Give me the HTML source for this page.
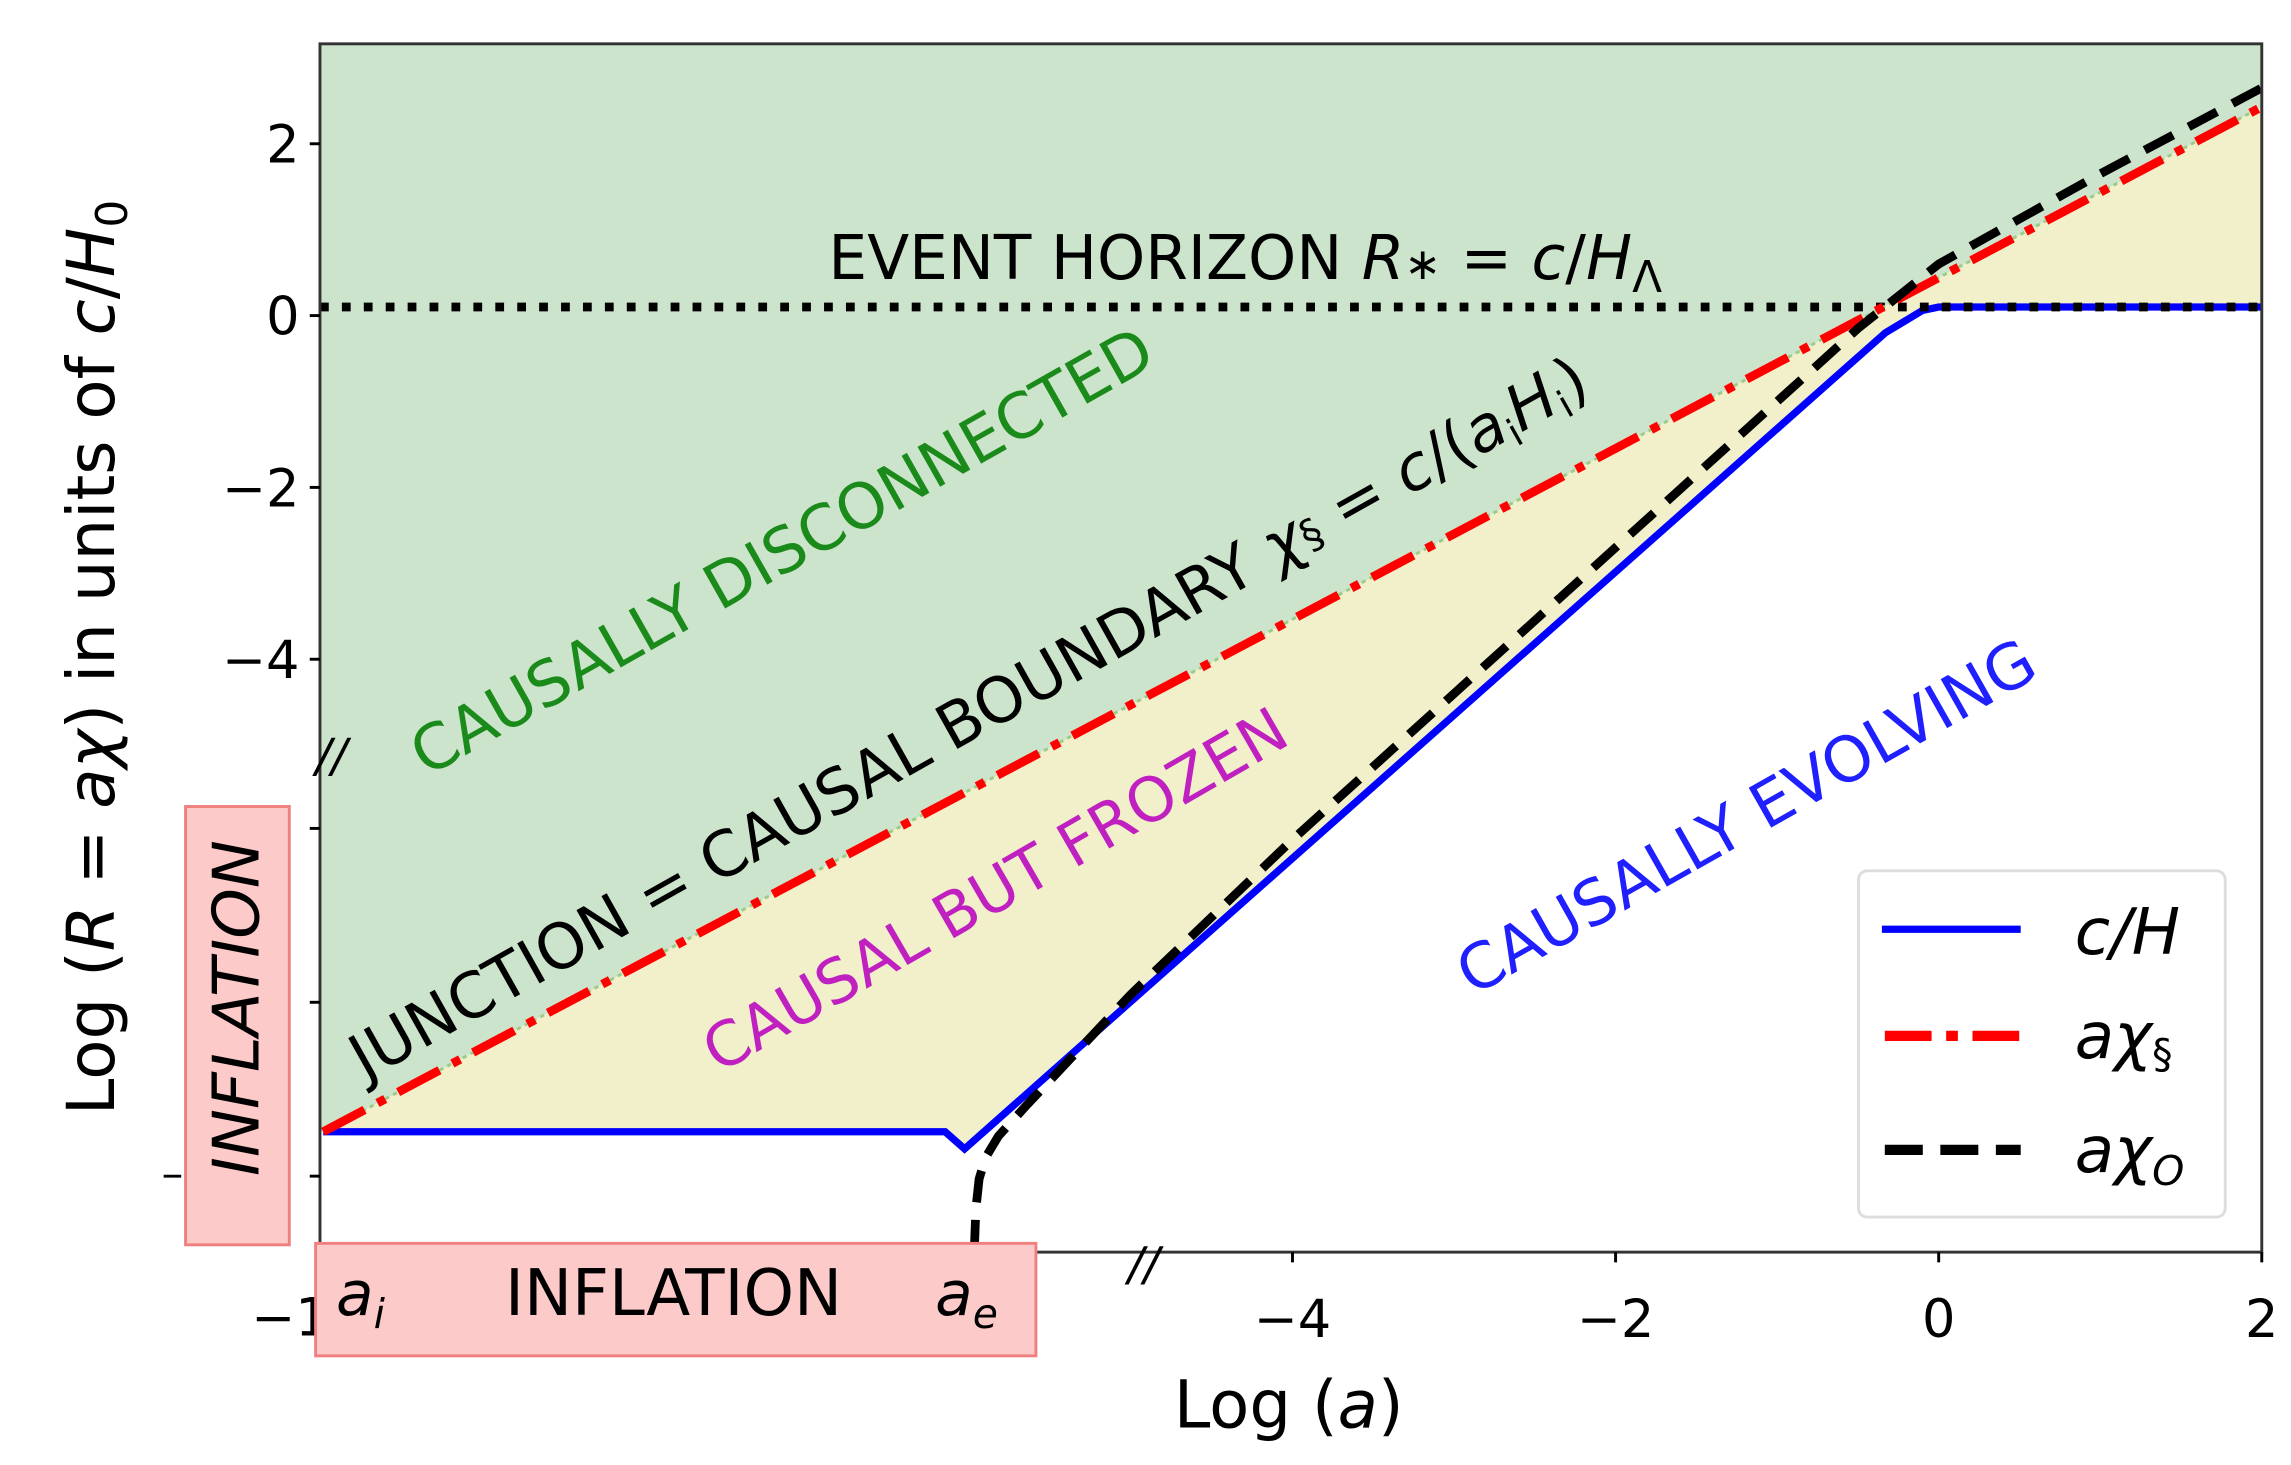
<!DOCTYPE html>
<html><head><meta charset="utf-8">
<style>
html,body{margin:0;padding:0;background:#fff;}
svg{display:block;}
text{font-family:"DejaVu Sans","Liberation Sans",sans-serif;}
</style></head>
<body>
<svg id="chart" width="2291" height="1465" viewBox="0 0 1568 1002.7" preserveAspectRatio="none" xmlns="http://www.w3.org/2000/svg">
<g id="fills"></g>
<g id="lines"></g>
<g id="axes"></g>
<g id="annot"></g>
</svg>
<script>
// ---- data ----
const xTicks = [-4, -2, 0, 2];
const yTicks = [2, 0, -2, -4];
const yTickLabels = ["2", "0", "\u22122", "\u22124"];
const xTickLabels = ["\u22124", "\u22122", "0", "2"];
const horizonLevel = 0.1;
const blueX = [-10, -6.15, -6.03, -0.33, -0.1, 0, 2];
const blueY = [-9.5, -9.5, -9.7, -0.2, 0.06, 0.1, 0.1];
const redX = [-10, 2];
const redY = [-9.5, 2.43];
const blackX = [-5.97, -5.96, -5.94, -5.9, -5.82, -5.65, -5.3, -5, -4, -3, -2, -1, -0.5, 0, 1, 2];
const blackY = [-10.9, -10.4, -10.05, -9.8, -9.55, -9.2, -8.5, -7.9, -6.1, -4.4, -2.7, -1.0, -0.15, 0.6, 1.65, 2.65];

// ---- axes mapping (shown-scale coordinates) ----
const X0 = 219, X1 = 1548, Y0 = 30, Y1 = 857;
const xmin = -10.02, xmax = 2;
const sx = v => X0 + (v - xmin) / (xmax - xmin) * (X1 - X0);
const sy = v => 216 - v * 58.8;
const NS = "http://www.w3.org/2000/svg";
function mk(tag, attrs, parent) {
  const e = document.createElementNS(NS, tag);
  for (const k in attrs) e.setAttribute(k, attrs[k]);
  parent.appendChild(e);
  return e;
}
const fills = document.getElementById('fills');
const lines = document.getElementById('lines');
const axes = document.getElementById('axes');

function pts(xs, ys) { return xs.map((x, i) => sx(x).toFixed(2) + ',' + sy(ys[i]).toFixed(2)); }

let g = mk('rect', {x: X0, y: Y0, width: X1 - X0, height: Y1 - Y0, fill: '#cde4cc'}, fills);


let wp = pts(blueX, blueY).join(' ') + ` ${sx(2)},${Y1} ${sx(-10.02)},${Y1} ${sx(-10.02)},${sy(blueY[0])}`;
let w = mk('polygon', {points: wp, fill: '#ffffff'}, fills);


let yp = pts(redX, redY).join(' ') + ' ' + pts(blueX.slice().reverse(), blueY.slice().reverse()).join(' ');
let y = mk('polygon', {points: yp, fill: '#f1f0cb'}, fills);



let bl = mk('polyline', {points: pts(blueX, blueY).join(' '), fill: 'none', stroke: '#0000ff', 'stroke-width': 5}, lines);


let hz = mk('line', {x1: X0, x2: X1, y1: sy(horizonLevel), y2: sy(horizonLevel), stroke: '#000', 'stroke-width': 6, 'stroke-dasharray': '6 9'}, lines);


let gd = mk('polyline', {points: pts(redX, redY).join(' '), fill: 'none', stroke: '#9ccc88', 'stroke-width': 2, 'stroke-dasharray': '3 3'}, lines);


let rd = mk('polyline', {points: pts(redX, redY).join(' '), fill: 'none', stroke: '#ff0000', 'stroke-width': 6, 'stroke-dasharray': '32 10 6 10'}, lines);


let bk = mk('polyline', {points: pts(blackX, blackY).join(' '), fill: 'none', stroke: '#000', 'stroke-width': 6, 'stroke-dasharray': '22 12'}, lines);



let fr = mk('rect', {x: X0, y: Y0, width: X1 - X0, height: Y1 - Y0, fill: 'none', stroke: '#333', 'stroke-width': 2}, axes);


yTicks.forEach((t, i) => {
  mk('line', {x1: X0 - 7, x2: X0, y1: sy(t), y2: sy(t), stroke: '#000', 'stroke-width': 2}, axes);
  let tx = mk('text', {x: X0 - 14, y: sy(t) + 13, 'text-anchor': 'end', 'font-size': 36}, axes);
  tx.textContent = yTickLabels[i];
  
  
});
[567, 686, 805].forEach(py => mk('line', {x1: X0 - 7, x2: X0, y1: py, y2: py, stroke: '#000', 'stroke-width': 2}, axes));
mk('line', {x1: 112, x2: 124, y1: 805, y2: 805, stroke: '#000', 'stroke-width': 2}, axes);
xTicks.forEach((t, i) => {
  mk('line', {x1: sx(t), x2: sx(t), y1: Y1, y2: Y1 + 7, stroke: '#000', 'stroke-width': 2}, axes);
  let tx = mk('text', {x: sx(t), y: Y1 + 58, 'text-anchor': 'middle', 'font-size': 36}, axes);
  tx.textContent = xTickLabels[i];
  
  
});
</script>
<script>
(function(){
const annot = document.getElementById('annot');
annot.innerHTML = `
<text x="172" y="914" font-size="36">−1</text>
<text x="882" y="977" text-anchor="middle" font-size="45">Log (<tspan font-style="italic">a</tspan>)</text>
<text transform="translate(78,450) rotate(-90)" text-anchor="middle" font-size="45">Log (<tspan font-style="italic">R</tspan> = <tspan font-style="italic">aχ</tspan>)  in units of <tspan font-style="italic">c</tspan>/<tspan font-style="italic">H</tspan><tspan font-size="30" dy="9">0</tspan></text>
<text x="567" y="191" font-size="42">EVENT HORIZON   <tspan font-style="italic">R</tspan><tspan font-size="30">∗</tspan> = <tspan font-style="italic">c</tspan>/<tspan font-style="italic">H</tspan><tspan font-size="30" dy="9">Λ</tspan></text>
<text transform="translate(292,532) rotate(-29.5)" font-size="43" fill="#1a8a1a">CAUSALLY DISCONNECTED</text>
<text transform="translate(250,740) rotate(-29.3)" font-size="43">JUNCTION = CAUSAL BOUNDARY  <tspan font-style="italic">χ</tspan><tspan font-size="28">§</tspan> = <tspan font-style="italic">c</tspan>/(<tspan font-style="italic">a</tspan><tspan font-size="26" dy="7">i</tspan><tspan dy="-7" font-style="italic">H</tspan><tspan font-size="26" dy="7">i</tspan><tspan dy="-7">)</tspan></text>
<text transform="translate(492,735) rotate(-30)" font-size="42" fill="#c020c0">CAUSAL BUT FROZEN</text>
<text transform="translate(1008,682) rotate(-29.5)" font-size="43" fill="#2020ff">CAUSALLY EVOLVING</text>
<text x="216" y="528" font-size="32" font-style="italic">//</text>
<text x="772" y="876" font-size="32" font-style="italic">//</text>
<g>
<rect x="127" y="552" width="71" height="300" fill="#fdcaca" stroke="#f08080" stroke-width="2"/>
<text transform="translate(177,690) rotate(-90)" text-anchor="middle" font-size="44" font-style="italic">INFLATION</text>
</g>
<g>
<rect x="216" y="851" width="493" height="77" fill="#fdcaca" stroke="#f08080" stroke-width="2"/>
<text x="230" y="900" font-size="42" font-style="italic">a<tspan font-size="28" dy="9">i</tspan></text>
<text x="461" y="900" text-anchor="middle" font-size="44">INFLATION</text>
<text x="640" y="900" font-size="42" font-style="italic">a<tspan font-size="28" dy="9">e</tspan></text>
</g>
<g>
<rect x="1272" y="596" width="251" height="237" rx="6" fill="#fff" fill-opacity="0.85" stroke="#ddd" stroke-width="2"/>
<line x1="1288" x2="1383" y1="636" y2="636" stroke="#0000ff" stroke-width="5"/>
<text x="1420" y="653" font-size="44" font-style="italic">c/H</text>
<line x1="1290" x2="1383" y1="709" y2="709" stroke="#ff0000" stroke-width="7" stroke-dasharray="32 10 8 10"/>
<text x="1420" y="724" font-size="44" font-style="italic">aχ<tspan font-size="28" dy="7" font-style="normal">§</tspan></text>
<line x1="1290" x2="1383" y1="787" y2="787" stroke="#000" stroke-width="7" stroke-dasharray="26 12"/>
<text x="1420" y="802" font-size="44" font-style="italic">aχ<tspan font-size="28" dy="9">O</tspan></text>
</g>`;
})();
</script>
</body></html>
